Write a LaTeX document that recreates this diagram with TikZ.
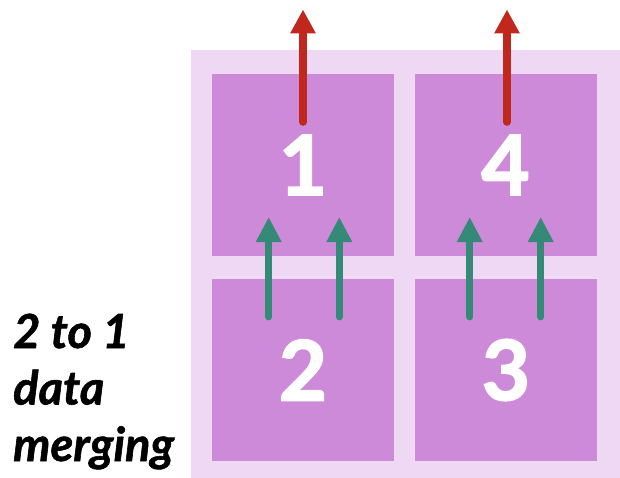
\documentclass[tikz,border=0pt]{standalone}
\usepackage{fontspec}
\setmainfont{Lato}
\newfontfamily\heavyfont{Lato}[BoldFeatures={FakeBold=2.2}, BoldItalicFeatures={FakeBold=1.2}]
\usetikzlibrary{arrows.meta}
\definecolor{frameclr}{HTML}{EFD8F3}
\definecolor{cellclr}{HTML}{CD8AD9}
\definecolor{outclr}{HTML}{C0281E}
\definecolor{inclr}{HTML}{358977}
\tikzset{
  cell/.style={fill=cellclr, draw=none, inner sep=0pt, minimum width=182pt, minimum height=182pt,
    text=white, font=\fontsize{83}{83}\heavyfont\bfseries\selectfont},
  outarrow/.style={draw=outclr, line width=7.7pt, line cap=round,
    -{Triangle[length=24pt, width=24pt]}},
  inarrow/.style={draw=inclr, line width=7.5pt, line cap=round,
    -{Triangle[length=25pt, width=24pt]}},
  lbl/.style={anchor=base west, inner sep=0pt, font=\fontsize{47}{47}\heavyfont\bfseries\itshape\selectfont}
}
\begin{document}
\begin{tikzpicture}[x=1pt, y=-1pt]
  \useasboundingbox (0,0) rectangle (620,478);
  % frame behind the four cells
  \fill[frameclr] (191,50) rectangle (620,478);
  % the four cells
  \node[cell] (c1) at (303,165) {1};
  \node[cell] (c4) at (505.5,165) {4};
  \node[cell] (c2) at (303,370) {2};
  \node[cell] (c3) at (506,370) {3};
  % merged outputs leaving the top cells
  \coordinate (o1s) at (303,122);
  \coordinate (o1e) at (303,9.5);
  \coordinate (o4s) at (507,122);
  \coordinate (o4e) at (507,9.5);
  \draw[outarrow] (o1s) -- (o1e);
  \draw[outarrow] (o4s) -- (o4e);
  % inputs from the bottom cells
  \foreach \x [count=\i] in {268.7,339.3,469.7,540.7} {
    \coordinate (i\i s) at (\x,316.7);
    \coordinate (i\i e) at (\x,217);
    \draw[inarrow] (i\i s) -- (i\i e);
  }
  % caption
  \node[lbl] (t1) at (13,348) {2 to 1};
  \node[lbl] (t2) at (13,404.5) {data};
  \node[lbl] (t3) at (13,461) {merging};
\end{tikzpicture}
\end{document}
